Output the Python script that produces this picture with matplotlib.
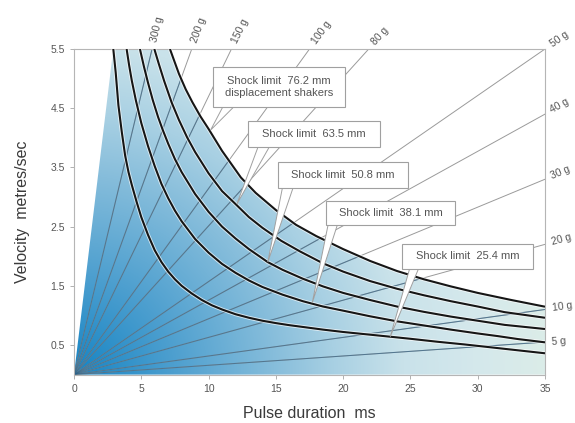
import numpy as np
import matplotlib
matplotlib.use('Agg')
import matplotlib.pyplot as plt
from matplotlib.patches import Polygon, Rectangle
import matplotlib.patheffects as pe

plt.rcParams['font.family'] = ['Liberation Sans', 'DejaVu Sans']

# constant acceleration lines (end point of each line)
g_levels = [5, 10, 20, 30, 40, 50, 80, 100, 150, 200, 300]
g_end_t = [35, 35, 35, 35, 35, 35, 21.9, 17.5, 11.7, 8.75, 5.8]
g_end_v = [0.55, 1.1, 2.2, 3.3, 4.4, 5.5, 5.5, 5.5, 5.5, 5.5, 5.5]

# shock limit curves (pulse duration ms, velocity m/s)
shock_mm = [25.4, 38.1, 50.8, 63.5, 76.2]
shock_t = [
    [2.92, 3.1, 3.3, 3.55, 3.8, 4.05, 4.3, 4.65, 5.0, 5.5, 6.0, 6.5, 7.0, 7.5, 8.0, 8.75, 9.5,
     10.25, 11, 12, 13, 14, 15, 16, 17, 18.5, 20, 21.75, 23.5, 25, 27, 29, 31, 33, 35],
    [3.91, 4.1, 4.3, 4.6, 5.0, 5.5, 6.0, 6.5, 7, 7.5, 8, 9, 10, 11, 12, 13, 14, 15.5, 17, 18.5,
     20, 22, 24, 26, 28, 30, 31.5, 33, 35],
    [4.9, 5.2, 5.5, 5.85, 6.25, 6.6, 7, 7.5, 8, 9, 10, 11, 12, 13, 14.4, 15.5, 17, 18.5, 20,
     22, 24, 26, 28, 30, 32, 35],
    [5.97, 6.3, 6.7, 7.25, 7.8, 8.4, 9, 10, 11, 12.1, 13, 14, 15.4, 16.8, 18.5, 20, 22, 24, 26,
     28, 30, 32, 35],
    [7.13, 7.4, 7.8, 8.3, 8.8, 9.4, 10, 11, 12.4, 13.5, 15, 16.5, 18, 20, 22, 24, 26, 28, 30,
     32.5, 35],
]
shock_v = [
    [5.5, 5.1, 4.55, 4.1, 3.7, 3.42, 3.2, 2.92, 2.66, 2.36, 2.1, 1.9, 1.74, 1.61, 1.5, 1.37, 1.26,
     1.17, 1.1, 1.02, 0.96, 0.91, 0.87, 0.835, 0.805, 0.76, 0.72, 0.68, 0.64, 0.605, 0.555, 0.51,
     0.46, 0.41, 0.36],
    [5.5, 5.22, 4.96, 4.63, 4.25, 3.86, 3.52, 3.22, 2.98, 2.77, 2.59, 2.29, 2.06, 1.87, 1.72, 1.59,
     1.48, 1.35, 1.24, 1.15, 1.08, 0.985, 0.9, 0.83, 0.76, 0.695, 0.65, 0.6, 0.545],
    [5.5, 5.2, 4.93, 4.64, 4.35, 4.13, 3.9, 3.64, 3.42, 3.05, 2.75, 2.5, 2.3, 2.12, 1.9, 1.77, 1.62,
     1.49, 1.38, 1.26, 1.15, 1.06, 0.98, 0.91, 0.84, 0.77],
    [5.5, 5.25, 4.96, 4.6, 4.3, 4.01, 3.76, 3.4, 3.1, 2.86, 2.66, 2.48, 2.26, 2.08, 1.88, 1.74, 1.58,
     1.45, 1.34, 1.24, 1.15, 1.055, 0.96],
    [5.5, 5.33, 5.08, 4.82, 4.6, 4.36, 4.15, 3.78, 3.33, 3.07, 2.78, 2.53, 2.34, 2.12, 1.92, 1.75,
     1.61, 1.49, 1.38, 1.26, 1.147],
]

x_ticks = [0, 5, 10, 15, 20, 25, 30, 35]
y_ticks = [0.5, 1.5, 2.5, 3.5, 4.5, 5.5]

fig = plt.figure(figsize=(5.75, 4.23), dpi=100)
ax = fig.add_axes([74 / 575, 48.4 / 423, 471 / 575, 325.6 / 423])
ax.set_xlim(0, 35)
ax.set_ylim(0, 5.5)

# blue region under the outer shock curve
verts = [(0, 0), (shock_t[0][0], shock_v[0][0])]
verts += list(zip(shock_t[-1], shock_v[-1])) + [(35, 0)]
region = Polygon(verts, closed=True, facecolor='none', edgecolor='none')
ax.add_patch(region)

# radial gradient from the origin (in pixel distance)
nx, ny = 400, 300
u, w = np.meshgrid(np.linspace(0, 1, nx), np.linspace(0, 1, ny))
d = np.hypot(u * 471, w * 325.6)
stops = [0, 100, 200, 260, 330, 400, 480]
cols = np.array([[0x15, 0x84, 0xc4], [0x4d, 0x9f, 0xcf], [0x86, 0xbd, 0xdb], [0xa8, 0xd0, 0xe3],
                 [0xc9, 0xe2, 0xea], [0xd4, 0xe8, 0xec], [0xdc, 0xed, 0xe8]]) / 255
img = np.dstack([np.interp(d, stops, cols[:, k]) for k in range(3)])
im = ax.imshow(img, extent=[0, 35, 0, 5.5], origin='lower', aspect='auto', zorder=1)
im.set_clip_path(region)

# fan of g lines
for t1, v1 in zip(g_end_t, g_end_v):
    ax.plot([0, t1], [0, v1], color='#9a9a9a', lw=0.7, zorder=2)
    ln, = ax.plot([0, t1], [0, v1], color='#245f88', lw=0.75, alpha=0.6, zorder=2.1)
    ln.set_clip_path(region)

# g labels along line direction
fig.canvas.draw()
for g, t1, v1 in zip(g_levels, g_end_t, g_end_v):
    p0 = ax.transData.transform((0, 0))
    p1 = ax.transData.transform((t1, v1))
    ang = np.arctan2(p1[1] - p0[1], p1[0] - p0[0])
    off = 5
    ax.annotate(f'{g} g', xy=(t1, v1), xytext=(off * np.cos(ang), off * np.sin(ang)),
                textcoords='offset points', rotation=np.degrees(ang), rotation_mode='anchor',
                ha='left', va='center', fontsize=7.5, color='#555555', annotation_clip=False)

# shock limit curves
for t, v in zip(shock_t, shock_v):
    ax.plot(t, v, color='#161616', lw=1.5, zorder=3, solid_capstyle='butt', solid_joinstyle='round',
            path_effects=[pe.Stroke(linewidth=2.8, foreground='white', alpha=0.7), pe.Normal()])

# callouts: box (x0, x1, y0, y1), wedge base (b0, b1), tip
callouts = [
    ('Shock limit  76.2 mm\ndisplacement shakers', (10.33, 20.13, 4.52, 5.2), (11.1, 11.95), (10.15, 4.13)),
    ('Shock limit  63.5 mm', (12.93, 22.73, 3.84, 4.28), (13.7, 14.55), (12.1, 2.88)),
    ('Shock limit  50.8 mm', (15.16, 24.81, 3.15, 3.59), (15.5, 16.3), (14.4, 1.9)),
    ('Shock limit  38.1 mm', (18.72, 28.31, 2.53, 2.93), (18.9, 19.6), (17.7, 1.21)),
    ('Shock limit  25.4 mm', (24.37, 34.1, 1.784, 2.206), (24.96, 25.63), (23.5, 0.64)),
]
for txt, (x0, x1, y0, y1), (b0, b1), tip in callouts:
    ax.add_patch(Polygon([(b0, y0 + 0.02), (b1, y0 + 0.02), tip], closed=True,
                         facecolor='white', edgecolor='#a0a0a0', lw=0.7, zorder=5))
    ax.add_patch(Rectangle((x0, y0), x1 - x0, y1 - y0, facecolor='white',
                           edgecolor='#a0a0a0', lw=0.8, zorder=6))
    ax.text((x0 + x1) / 2, (y0 + y1) / 2, txt, ha='center', va='center', fontsize=8,
            color='#555555', zorder=7, linespacing=1.3)

ax.set_xticks(x_ticks)
ax.set_yticks(y_ticks)
ax.set_yticklabels([f'{y:.1f}' for y in y_ticks])
ax.tick_params(labelsize=7.5, labelcolor='#555555', color='#b0b0b0', length=3, width=0.7)
for s in ax.spines.values():
    s.set_color('#b5b5b5')
    s.set_linewidth(0.8)

ax.set_xlabel('Pulse duration  ms', fontsize=11.5, color='#3a3a3a', labelpad=9)
ax.set_ylabel('Velocity  metres/sec', fontsize=11.5, color='#3a3a3a', labelpad=15)

fig.savefig('out.png', dpi=100)
